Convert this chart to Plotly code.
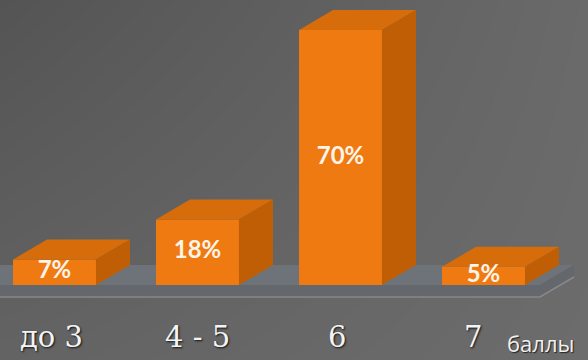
import plotly.graph_objects as go

categories = ["до 3", "4 - 5", "6", "7"]
values = [7, 18, 70, 5]
value_labels = ["7%", "18%", "70%", "5%"]
unit_label = "баллы"

# geometry / style
xr = [-0.3811, 3.7308]
yr = [-20.588, 78.235]
bw = 0.58          # bar width (category units)
dx, dy = 0.2378, 5.49   # 3D depth offsets
floor_th = 3.29
front_col = "#F07A12"
top_col = "#D66C0A"
side_col = "#C05E06"

xs = list(range(len(categories)))

fig = go.Figure()

# background gradient (main subplot)
fig.add_trace(go.Heatmap(
    x=[xr[0], xr[1]], y=[yr[0], yr[1]],
    z=[[98, 106], [84, 104]], zmin=84, zmax=106, zsmooth="best",
    colorscale=[[0, "rgb(84,84,84)"], [1, "rgb(108,108,108)"]],
    showscale=False, hoverinfo="skip", xaxis="x", yaxis="y"))

# floor slab
fl_l, fl_r = xr[0] - 0.5, 3.395
fig.add_trace(go.Scatter(
    x=[fl_l, fl_r, fl_r + dx, fl_l + dx, fl_l],
    y=[0, 0, dy, dy, 0], fill="toself", mode="lines",
    line=dict(width=0), fillcolor="rgb(110,115,122)", hoverinfo="skip",
    showlegend=False, xaxis="x", yaxis="y"))
fig.add_trace(go.Scatter(
    x=[fl_l, fl_r, fl_r + dx, fl_r + dx, fl_r, fl_l, fl_l],
    y=[0, 0, dy, dy - floor_th, -floor_th, -floor_th, 0], fill="toself", mode="lines",
    line=dict(width=0), fillcolor="rgb(100,103,108)", hoverinfo="skip",
    showlegend=False, xaxis="x", yaxis="y"))
fig.add_trace(go.Scatter(
    x=[fl_l, fl_r, fl_r + dx], y=[-floor_th, -floor_th, dy - floor_th],
    mode="lines", line=dict(color="rgb(136,136,136)", width=1.5),
    hoverinfo="skip", showlegend=False, xaxis="x", yaxis="y"))

# bars: front faces
fig.add_trace(go.Bar(
    x=xs, y=values, width=bw, marker=dict(color=front_col, line=dict(width=0)),
    hoverinfo="skip", showlegend=False, xaxis="x2", yaxis="y2"))

# side and top faces
for x, v in zip(xs, values):
    l, r = x - bw / 2, x + bw / 2
    fig.add_trace(go.Scatter(
        x=[r, r, r + dx, r + dx, r], y=[0, v, v + dy, dy, 0],
        fill="toself", mode="lines", line=dict(width=0), fillcolor=side_col,
        hoverinfo="skip", showlegend=False, xaxis="x2", yaxis="y2"))
    fig.add_trace(go.Scatter(
        x=[l, l + dx, r + dx, r, l], y=[v, v + dy, v + dy, v, v],
        fill="toself", mode="lines", line=dict(width=0), fillcolor=top_col,
        hoverinfo="skip", showlegend=False, xaxis="x2", yaxis="y2"))

# value labels
fig.add_trace(go.Scatter(
    x=xs, y=[v / 2 for v in values], text=value_labels, mode="text",
    textfont=dict(family="Lato", size=24, color="#FFF4E8", weight="bold"),
    hoverinfo="skip", showlegend=False, xaxis="x2", yaxis="y2"))

# category labels
shifts = [-3, 0, -4, -11]
for x, c, s in zip(xs, categories, shifts):
    fig.add_annotation(
        x=x, y=-14.4, xref="x2", yref="y2", text=c, showarrow=False, xshift=s,
        font=dict(family="DejaVu Serif", size=29, color="#F4F4F4",
                  shadow="1px 1px 2px #111"))
fig.add_annotation(
    x=3.40, y=-15.9, xref="x2", yref="y2", text=unit_label, showarrow=False,
    font=dict(family="Open Sans", size=22, color="#F0F0F0",
              shadow="1px 1px 1px #222"))

ax = dict(range=xr, visible=False, fixedrange=True)
ay = dict(range=yr, visible=False, fixedrange=True)
fig.update_layout(
    width=588, height=360, margin=dict(l=0, r=0, t=0, b=0),
    paper_bgcolor="#636363", plot_bgcolor="#636363",
    xaxis=ax, yaxis=ay,
    xaxis2=dict(ax, overlaying="x"), yaxis2=dict(ay, overlaying="y"),
    showlegend=False, barmode="overlay")

fig.write_html("out.html")
